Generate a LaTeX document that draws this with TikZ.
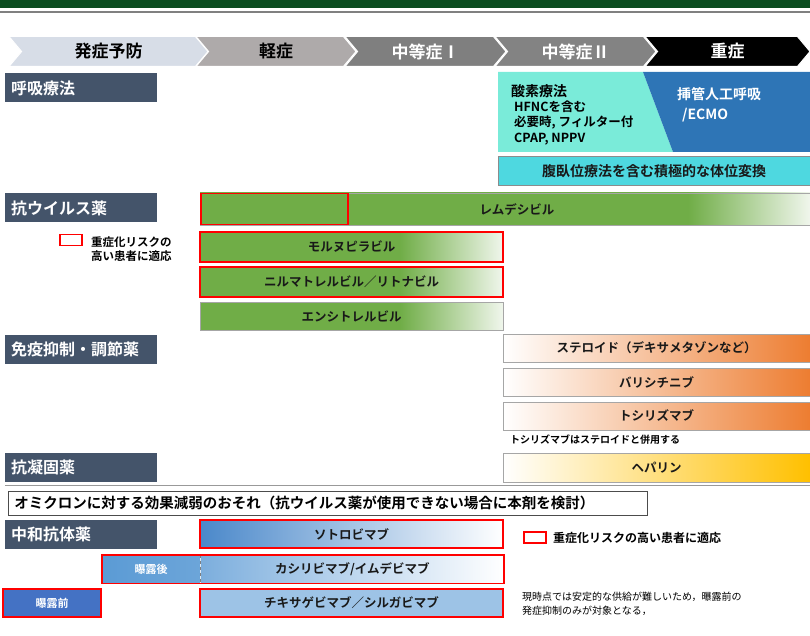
\documentclass[tikz,border=0pt]{standalone}
\usepackage{fontspec}
\setmainfont{Noto Sans CJK JP}[BoldFont={* Bold}]
\usetikzlibrary{shapes.symbols}

\definecolor{bandgreen}{HTML}{0B4D20}
\definecolor{chevA}{HTML}{D7DDE7}
\definecolor{chevB}{HTML}{AEAAAA}
\definecolor{chevC}{HTML}{7F7F7F}
\definecolor{chevD}{HTML}{838383}
\definecolor{catblue}{HTML}{44546A}
\definecolor{oxteal}{HTML}{7AEBD9}
\definecolor{oxblue}{HTML}{2E75B6}
\definecolor{pronecyan}{HTML}{4ED8E0}
\definecolor{avgreen}{HTML}{70AD47}
\definecolor{avpale}{HTML}{F0F6EC}
\definecolor{riskred}{HTML}{FF0000}
\definecolor{bargray}{HTML}{A6A6A6}
\definecolor{imorange}{HTML}{ED7D31}
\definecolor{hepgold}{HTML}{FFC000}
\definecolor{abblue}{HTML}{4A88CA}
\definecolor{postblue}{HTML}{5B9BD5}
\definecolor{postend}{HTML}{6CA5D9}
\definecolor{casistart}{HTML}{7CAEDD}
\definecolor{preblue}{HTML}{4472C4}
\definecolor{tixablue}{HTML}{9DC3E6}

\pgfdeclarehorizontalshading{remfade}{100bp}{color(0bp)=(avgreen); color(65bp)=(avgreen); color(75bp)=(avpale); color(100bp)=(avpale)}
\pgfdeclarehorizontalshading{molfade}{100bp}{color(0bp)=(avgreen); color(58bp)=(avgreen); color(75bp)=(avpale); color(100bp)=(avpale)}

\begin{document}
\begin{tikzpicture}[x=1pt, y=-1pt,
    catbox/.style={fill=catblue, text=white, font=\bfseries\fontsize{16}{18}\selectfont,
      text width=140pt, minimum height=29pt, inner xsep=6pt, inner ysep=0pt, align=left, anchor=west},
    chev/.style={signal, signal to=east, signal from=west, signal pointer angle=100,
      minimum height=30pt, inner sep=0pt, draw=white, line width=1pt,
      font=\bfseries\fontsize{17}{19}\selectfont},
    bar/.style={draw=bargray, line width=0.8pt, minimum height=29pt, inner sep=0pt,
      text=black!90, font=\bfseries\fontsize{12.5}{14}\selectfont},
    riskbar/.style={bar, draw=riskred, line width=1.8pt},
    riskkey/.style={draw=riskred, line width=1.8pt, fill=white, minimum width=22pt,
      minimum height=11pt, inner sep=0pt},
    keytext/.style={anchor=west, inner sep=0pt, align=left, font=\bfseries\fontsize{11.5}{14.5}\selectfont},
    note/.style={anchor=west, inner sep=0pt, align=left, font=\fontsize{10}{14}\selectfont},
  ]
  \useasboundingbox (0,0) rectangle (810,636);
  % Top band
  \fill[bandgreen] (0,0) rectangle (810,8);
  \draw[gray, line width=1.5pt] (0,12) -- (810,12);
  % Stages
  \node[chev, fill=chevA, minimum width=199pt] (prevent) at (108.5,51.5) {発症予防};
  \node[chev, fill=chevB, minimum width=160pt] (mild) at (276,51.5) {軽症};
  \node[chev, fill=chevC, text=white, minimum width=161pt] (modA) at (425.5,51.5) {中等症Ⅰ};
  \node[chev, fill=chevD, text=white, minimum width=161pt] (modB) at (575.5,51.5) {中等症Ⅱ};
  \node[chev, fill=black, text=white, minimum width=165pt] (severe) at (727.5,51.5) {重症};
  % Respiratory therapy
  \node[catbox] (resp) at (5,88) {呼吸療法};
  \fill[oxteal] (498,72) -- (643,72) -- (673,152) -- (498,152) -- cycle;
  \fill[oxblue] (643,72) -- (810,72) -- (810,152) -- (673,152) -- cycle;
  \node[anchor=west, inner sep=0pt, font=\bfseries\fontsize{14}{16}\selectfont] (oxy) at (511,91) {酸素療法};
  \node[anchor=west, inner sep=0pt, align=left, font=\bfseries\fontsize{12.5}{15.5}\selectfont] (oxyitems) at (514,123)
    {HFNCを含む\\必要時, フィルター付\\CPAP, NPPV};
  \node[anchor=west, inner sep=0pt, align=left, text=white, font=\bfseries\fontsize{14}{20}\selectfont] (intub) at (677,105)
    {挿管人工呼吸\\\hspace{5pt}/ECMO};
  \node[bar, fill=pronecyan, draw=black!45, minimum width=312pt, font=\bfseries\fontsize{14}{16}\selectfont] (prone) at (654,171)
    {腹臥位療法を含む積極的な体位変換};
  % Antivirals
  \node[catbox] (antiv) at (5,208) {抗ウイルス薬};
  \node[bar, shade, shading=remfade, minimum width=610pt, minimum height=32pt] (remdes) at (505,209) {};
  \node[draw=riskred, line width=1.8pt, minimum width=147pt, minimum height=31pt, inner sep=0pt] (remrisk) at (274.5,209) {};
  \node[bar, draw=none] (remtext) at (517,210) {レムデシビル};
  \node[riskkey] (key1) at (71,240) {};
  \node[keytext] (key1text) at (91,249) {重症化リスクの\\高い患者に適応};
  \node[riskbar, shade, shading=molfade, minimum width=303pt, minimum height=30pt] (molnu) at (351.5,247) {モルヌピラビル};
  \node[riskbar, shade, shading=molfade, minimum width=303pt, minimum height=30pt] (nirma) at (351.5,282) {ニルマトレルビル／リトナビル};
  \node[bar, shade, shading=molfade, minimum width=303pt, minimum height=28pt] (ensi) at (351.5,316) {エンシトレルビル};
  % Immunomodulators
  \node[catbox] (immune) at (5,349) {免疫抑制・調節薬};
  \node[bar, left color=white, right color=imorange, minimum width=307pt, minimum height=28pt] (steroid) at (656.5,348)
    {ステロイド（デキサメタゾンなど）};
  \node[bar, left color=white, right color=imorange, minimum width=307pt, minimum height=28pt] (bari) at (656.5,382.5) {バリシチニブ};
  \node[bar, left color=white, right color=imorange, minimum width=307pt, minimum height=28pt] (toci) at (656.5,416) {トシリズマブ};
  \node[note, font=\bfseries\fontsize{10}{12}\selectfont] (tocinote) at (510,440) {トシリズマブはステロイドと併用する};
  % Anticoagulant
  \node[catbox] (anticoag) at (5,467) {抗凝固薬};
  \node[bar, left color=white, right color=hepgold, minimum width=307pt, minimum height=29pt] (heparin) at (656.5,467.5) {ヘパリン};
  \draw[gray!80, line width=1.5pt] (5,485.5) -- (810,485.5);
  % Neutralising antibodies
  \node[draw=black!70, line width=0.8pt, anchor=west, text width=627pt, minimum height=24pt, inner xsep=6pt, inner ysep=0pt,
    align=left, font=\bfseries\fontsize{14.5}{16}\selectfont] (omicron) at (8,503)
    {オミクロンに対する効果減弱のおそれ（抗ウイルス薬が使用できない場合に本剤を検討）};
  \node[catbox] (neutral) at (5,534.5) {中和抗体薬};
  \node[riskbar, left color=abblue, right color=white, minimum width=303pt, minimum height=28pt] (sotro) at (351.5,534) {ソトロビマブ};
  \node[riskkey] (key2) at (535,537.5) {};
  \node[keytext, font=\bfseries\fontsize{12}{14}\selectfont] (key2text) at (553,537.5) {重症化リスクの高い患者に適応};
  \node[bar, draw=none, left color=postblue, right color=postend, text=white, minimum width=98pt, minimum height=28pt,
    font=\bfseries\fontsize{11}{13}\selectfont] (postexp) at (151,569) {曝露後};
  \node[bar, draw=none, left color=casistart, right color=white, anchor=west, minimum width=303pt, minimum height=28pt] (casiri)
    at (postexp.east) {カシリビマブ/イムデビマブ};
  \draw[gray, dashed, line width=1pt] (postexp.north east) -- (postexp.south east);
  \draw[riskred, line width=1.8pt] (postexp.north west) rectangle (casiri.south east);
  \node[riskbar, fill=preblue, text=white, minimum width=98pt, minimum height=28pt,
    font=\bfseries\fontsize{11}{13}\selectfont] (preexp) at (52,603) {曝露前};
  \node[riskbar, fill=tixablue, minimum width=303pt, minimum height=28pt] (tixa) at (351.5,603) {チキサゲビマブ／シルガビマブ};
  \node[note] (supplynote) at (522,604) {現時点では安定的な供給が難しいため，曝露前の\\発症抑制のみが対象となる，};
\end{tikzpicture}
\end{document}
